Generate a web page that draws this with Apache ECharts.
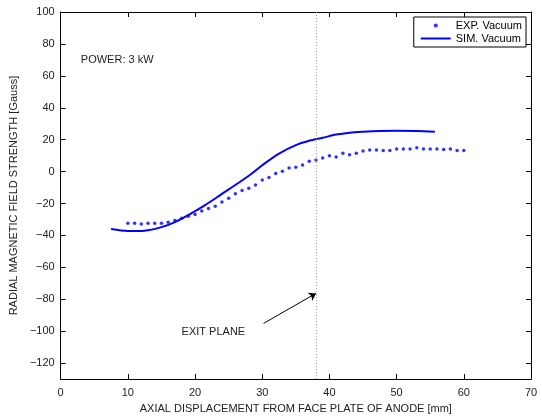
<!DOCTYPE html>
<html>
<head>
<meta charset="utf-8">
<style>
  html, body { margin: 0; padding: 0; background: #fff; }
  #chart { width: 542px; height: 419px; }
</style>
<script src="https://cdn.jsdelivr.net/npm/echarts@6/dist/echarts.min.js"></script>
</head>
<body>
<div id="chart"></div>
<script>
// Measured radial field (dots), axial position in mm
const expX = [10, 11, 12, 13, 14, 15, 16, 17, 18, 19, 20, 21, 22, 23, 24, 25, 26, 27, 28, 29,
              30, 31, 32, 33, 34, 35, 36, 37, 38, 39, 40, 41, 42, 43, 44, 45, 46, 47, 48, 49,
              50, 51, 52, 53, 54, 55, 56, 57, 58, 59, 60];
const expY = [-32.3, -32.3, -32.9, -32.3, -32.3, -32.3, -31.7, -30.7, -29.3, -28.0, -26.8, -24.7,
              -23.1, -21.7, -19.0, -16.7, -13.9, -11.8, -10.4, -8.4, -5.3, -3.7, -1.2, 0.2, 2.2,
              2.8, 4.2, 6.5, 7.2, 8.6, 10.0, 9.2, 11.5, 10.6, 11.5, 12.9, 13.5, 13.5, 13.3, 13.3,
              14.1, 14.1, 14.1, 14.9, 14.1, 14.1, 14.1, 13.9, 14.1, 13.3, 13.3];

// Simulated radial field (solid curve)
const simX = [7.5, 10, 12.5, 15, 17, 19.5, 21.5, 24, 26.5, 28.2, 30, 32.5, 35, 37, 39, 41, 43, 45, 47.5, 50, 53, 55.7];
const simY = [-36.0, -37.2, -37.0, -34.8, -31.6, -26.0, -21.0, -14.0, -7.0, -2.0, 4.0, 11.3, 16.6, 19.3, 21.2, 23.2, 24.4, 25.0, 25.5, 25.6, 25.5, 25.0];

const xTicks = [0, 10, 20, 30, 40, 50, 60, 70];
const yTicks = [-120, -100, -80, -60, -40, -20, 0, 20, 40, 60, 80, 100];
const xRange = [0, 70];
const yRange = [-130, 100];

// Exit plane position and annotation anchors (mm, Gauss)
const exitPlaneX = 38;
const arrowFrom = [30.2, -95.1];
const arrowTo = [38.0, -76.3];
const exitLabelAt = [18.0, -100.4];
const powerLabelAt = [3.0, 70.2];

const FONT = 'Liberation Sans, Arial, Helvetica, sans-serif';
const BLUE = '#0000ff';

function axisX(pos, showLabels) {
  return {
    type: 'value', position: pos, min: xRange[0], max: xRange[1], interval: 10,
    axisLine: { show: true, onZero: false, lineStyle: { color: '#000', width: 1 } },
    axisTick: { show: true, inside: true, length: 5, lineStyle: { color: '#000' } },
    axisLabel: { show: showLabels, color: '#222', fontFamily: FONT, fontSize: 11, margin: 8 },
    splitLine: { show: false }
  };
}
function axisY(pos, showLabels) {
  return {
    type: 'value', position: pos, min: yRange[0], max: yRange[1],
    axisLine: { show: true, onZero: false, lineStyle: { color: '#000', width: 1 } },
    axisTick: { show: true, inside: true, length: 5, customValues: yTicks, lineStyle: { color: '#000' } },
    axisLabel: { show: showLabels, customValues: yTicks, color: '#222', fontFamily: FONT, fontSize: 11, margin: 6,
                 formatter: v => (v < 0 ? '\u2212' + Math.abs(v) : String(v)) },
    splitLine: { show: false }
  };
}

const xBottom = axisX('bottom', true);
xBottom.name = 'AXIAL DISPLACEMENT FROM FACE PLATE OF ANODE [mm]';
xBottom.nameLocation = 'middle';
xBottom.nameGap = 22;
xBottom.nameTextStyle = { color: '#222', fontFamily: FONT, fontSize: 11 };

const yLeft = axisY('left', true);
yLeft.name = 'RADIAL MAGNETIC FIELD STRENGTH [Gauss]';
yLeft.nameLocation = 'middle';
yLeft.nameGap = 31;
yLeft.nameTextStyle = { color: '#222', fontFamily: FONT, fontSize: 11 };

const chart = echarts.init(document.getElementById('chart'), null, { renderer: 'canvas' });

chart.setOption({
  animation: false,
  backgroundColor: '#fff',
  grid: { left: 55, right: 11, top: 12, bottom: 32, containLabel: false },
  xAxis: [xBottom, axisX('top', false)],
  yAxis: [yLeft, axisY('right', false)],
  legend: {
    orient: 'vertical', right: 16, top: 17, padding: [3, 4, 3, 6],
    backgroundColor: '#fff', borderColor: '#000', borderWidth: 1, borderRadius: 0,
    itemWidth: 30, itemHeight: 4, itemGap: 2,
    textStyle: { color: '#000', fontFamily: FONT, fontSize: 11 },
    data: [
      { name: 'EXP. Vacuum', icon: 'circle', itemStyle: { color: BLUE } },
      { name: 'SIM. Vacuum', itemStyle: { opacity: 0 }, lineStyle: { color: BLUE, width: 2 } }
    ]
  },
  series: [
    {
      name: 'EXP. Vacuum', type: 'scatter', xAxisIndex: 0, yAxisIndex: 0,
      symbol: 'circle', symbolSize: 3.5, itemStyle: { color: BLUE },
      data: expX.map((x, i) => [x, expY[i]]),
      markLine: {
        silent: true, animation: false,
        label: { show: false },
        data: [[
          { coord: arrowFrom, symbol: 'none' },
          { coord: arrowTo, symbol: 'arrow', symbolSize: 7 }
        ]],
        lineStyle: { color: '#000', type: 'solid', width: 1 }
      },
      markPoint: {
        silent: true, symbol: 'circle', symbolSize: 0,
        data: [
          { coord: exitLabelAt, label: { show: true, formatter: 'EXIT PLANE', position: 'right', distance: 0,
            color: '#222', fontFamily: FONT, fontSize: 11 } },
          { coord: powerLabelAt, label: { show: true, formatter: 'POWER: 3 kW', position: 'right', distance: 0,
            color: '#222', fontFamily: FONT, fontSize: 11 } }
        ]
      }
    },
    {
      name: 'SIM. Vacuum', type: 'line', xAxisIndex: 0, yAxisIndex: 0,
      smooth: 0.3, symbol: 'none', showSymbol: false,
      lineStyle: { color: BLUE, width: 2 }, itemStyle: { color: BLUE },
      data: simX.map((x, i) => [x, simY[i]]),
      markLine: {
        silent: true, animation: false, symbol: 'none',
        label: { show: false },
        lineStyle: { color: '#999', type: [1, 2], width: 1 },
        data: [{ xAxis: exitPlaneX }]
      }
    }
  ]
});
</script>
</body>
</html>
